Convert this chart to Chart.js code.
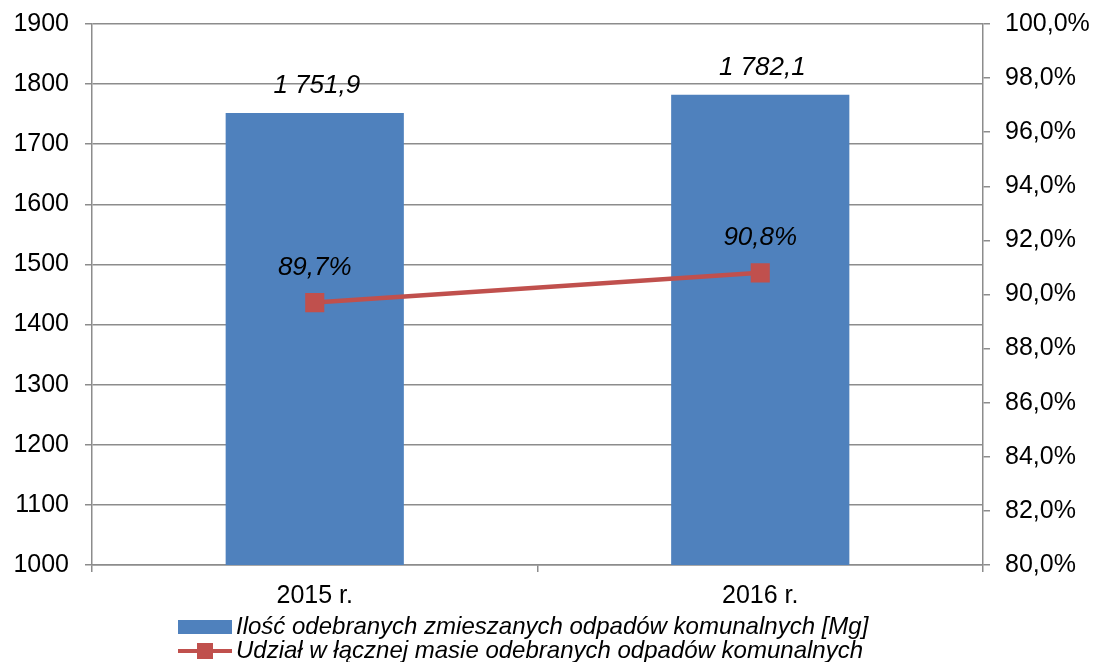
<!DOCTYPE html>
<html>
<head>
<meta charset="utf-8">
<script src="https://cdn.jsdelivr.net/npm/chart.js@4/dist/chart.umd.min.js"></script>
<style>
  html, body { margin: 0; padding: 0; background: #fff; }
  #wrap { width: 1097px; height: 662px; }
</style>
</head>
<body>
<div id="wrap"><canvas id="chart"></canvas></div>
<script>
// data
const years = ["2015 r.", "2016 r."];
const mass = [1751.9, 1782.1];
const share = [89.7, 90.8];
const barLabel = "Ilość odebranych zmieszanych odpadów komunalnych [Mg]";
const lineLabel = "Udział w łącznej masie odebranych odpadów komunalnych";

const blue = "#4F81BD";
const red = "#C0504D";
const grey = "#8C8C8C";
const font = "'Liberation Sans', Arial, sans-serif";

function fmt(v, digits) {
  const parts = v.toFixed(digits).split(".");
  parts[0] = parts[0].replace(/\B(?=(\d{3})+(?!\d))/g, " ");
  return parts.join(",");
}

// value labels over bars and points
const valueLabels = {
  id: "valueLabels",
  afterDatasetsDraw(chart) {
    const ctx = chart.ctx;
    ctx.save();
    ctx.font = "italic 26px " + font;
    ctx.fillStyle = "#000";
    ctx.textAlign = "center";
    ctx.textBaseline = "middle";
    chart.getDatasetMeta(0).data.forEach((el, i) => {
      ctx.fillText(fmt(mass[i], 1), el.x + 2, el.y - 27);
    });
    chart.getDatasetMeta(1).data.forEach((el, i) => {
      ctx.fillText(fmt(share[i], 1) + "%", el.x, el.y - 35);
    });
    ctx.restore();
  }
};

// legend drawn in two rows, like the original
const bottomLegend = {
  id: "bottomLegend",
  afterDraw(chart) {
    const ctx = chart.ctx;
    const x0 = 178;
    ctx.save();
    ctx.font = "italic 24px " + font;
    ctx.textBaseline = "middle";
    ctx.fillStyle = blue;
    ctx.fillRect(x0, 620, 54, 14);
    ctx.fillStyle = "#000";
    ctx.fillText(barLabel, x0 + 58, 627);

    ctx.strokeStyle = red;
    ctx.lineWidth = 4;
    ctx.beginPath();
    ctx.moveTo(x0, 651);
    ctx.lineTo(x0 + 54, 651);
    ctx.stroke();
    ctx.fillStyle = red;
    ctx.fillRect(x0 + 19, 643, 16, 16);
    ctx.fillStyle = "#000";
    ctx.fillText(lineLabel, x0 + 58, 651);
    ctx.restore();
  }
};

new Chart(document.getElementById("chart"), {
  type: "bar",
  data: {
    labels: years,
    datasets: [
      {
        label: barLabel,
        data: mass,
        backgroundColor: blue,
        yAxisID: "y",
        categoryPercentage: 1,
        barPercentage: 0.4,
        order: 2
      },
      {
        type: "line",
        label: lineLabel,
        data: share,
        yAxisID: "y1",
        borderColor: red,
        borderWidth: 4.5,
        pointStyle: "rect",
        pointRadius: 13.5,
        pointHoverRadius: 13.5,
        pointBackgroundColor: red,
        pointBorderColor: red,
        pointBorderWidth: 0,
        order: 1
      }
    ]
  },
  options: {
    responsive: true,
    maintainAspectRatio: false,
    animation: false,
    layout: { padding: { top: 24, bottom: 52, left: 0, right: 0 } },
    plugins: {
      legend: { display: false },
      tooltip: { enabled: false }
    },
    scales: {
      x: {
        afterFit(s) { s.height = 45; },
        grid: { drawOnChartArea: false, color: grey, lineWidth: 1.5, tickLength: 7, offset: true },
        border: { color: grey, width: 1.5 },
        ticks: { color: "#000", font: { family: font, size: 25 }, padding: 9 }
      },
      y: {
        position: "left",
        min: 1000,
        max: 1900,
        afterFit(s) { s.width = 92; s.paddingTop = 0; s.paddingBottom = 0; },
        grid: { color: grey, lineWidth: 1.5, tickLength: 7 },
        border: { color: grey, width: 1.5 },
        ticks: {
          stepSize: 100,
          color: "#000",
          font: { family: font, size: 25 },
          padding: 16,
          callback: (v) => String(v)
        }
      },
      y1: {
        position: "right",
        min: 80,
        max: 100,
        afterFit(s) { s.width = 114; s.paddingTop = 0; s.paddingBottom = 0; },
        grid: { drawOnChartArea: false, color: grey, lineWidth: 1.5, tickLength: 7 },
        border: { color: grey, width: 1.5 },
        ticks: {
          stepSize: 2,
          color: "#000",
          font: { family: font, size: 25 },
          padding: 15,
          callback: (v) => fmt(v, 1) + "%"
        }
      }
    }
  },
  plugins: [valueLabels, bottomLegend]
});
</script>
</body>
</html>
